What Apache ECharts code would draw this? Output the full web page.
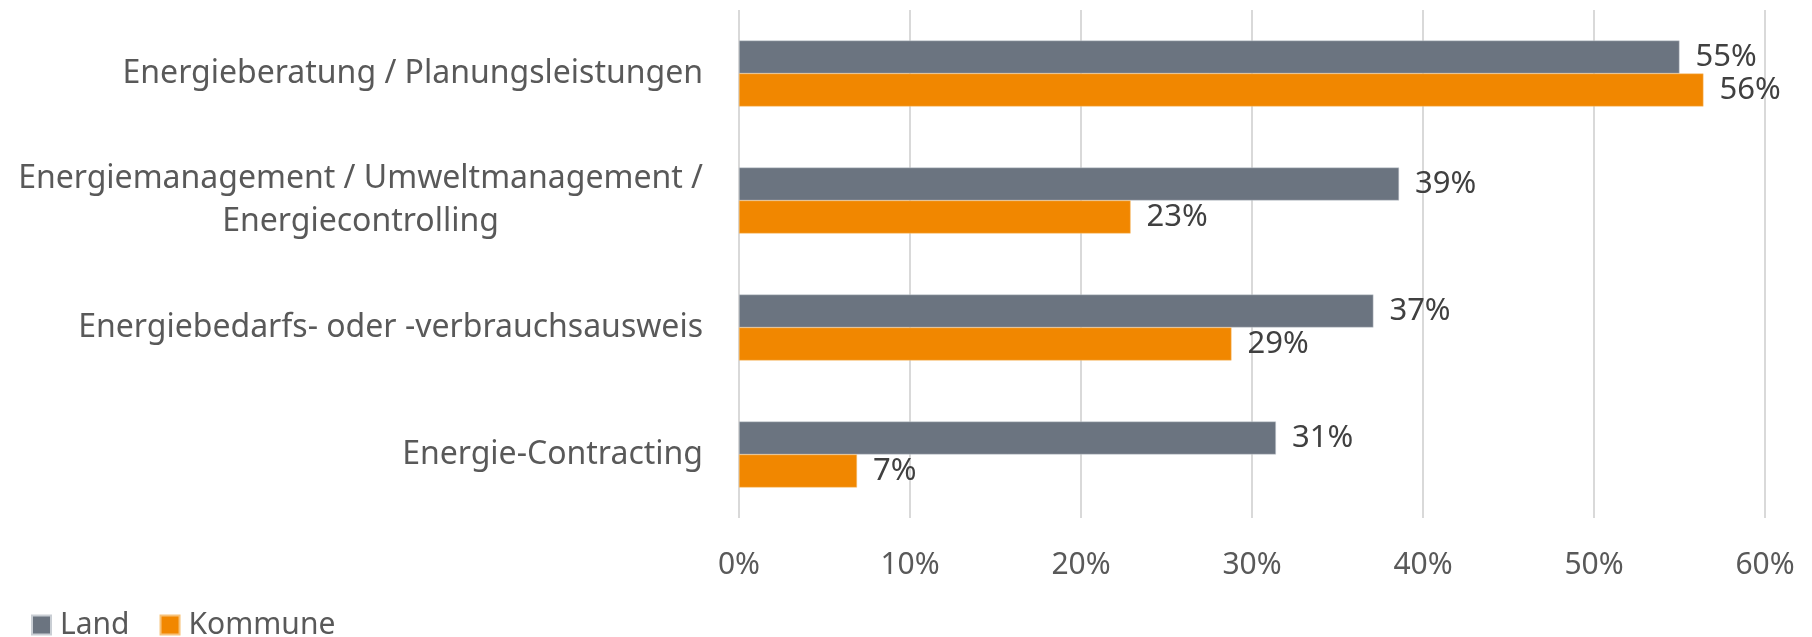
<!DOCTYPE html>
<html>
<head>
<meta charset="utf-8">
<script src="https://cdn.jsdelivr.net/npm/echarts@6/dist/echarts.min.js"></script>
<style>
    html, body {margin: 0; padding: 0; background: #fff;}
    #chart {width: 1812px; height: 637px;}
</style>
</head>
<body>
<div id="chart"></div>
<script>
var categories = [
    'Energieberatung / Planungsleistungen',
    'Energiemanagement / Umweltmanagement /\nEnergiecontrolling',
    'Energiebedarfs- oder -verbrauchsausweis',
    'Energie-Contracting'
];
var landValues = [55.0, 38.6, 37.1, 31.4];
var kommuneValues = [56.4, 22.9, 28.8, 6.9];
var tickLabels = ['0%', '10%', '20%', '30%', '40%', '50%', '60%'];

var FONT = 'Noto Sans';
var chart = echarts.init(document.getElementById('chart'));

function barLabel() {
    return {
        show: true,
        position: 'right',
        distance: 16,
        fontFamily: FONT,
        fontSize: 31,
        color: '#404040',
        formatter: function (p) {
            return Math.round(p.value) + '%';
        }
    };
}

option = {
    animation: false,
    grid: {left: 739, right: 47, top: 10, bottom: 119},
    legend: {
        left: 31,
        top: 610,
        padding: 0,
        itemWidth: 19,
        itemHeight: 19,
        itemGap: 30,
        icon: 'rect',
        textStyle: {fontFamily: FONT, fontSize: 30, color: '#595959', padding: [0, 0, 0, 4]},
        data: ['Land', 'Kommune']
    },
    xAxis: {
        type: 'value',
        min: 0,
        max: 60,
        interval: 10,
        axisLine: {show: false},
        axisTick: {show: false},
        splitLine: {lineStyle: {color: '#d9d9d9', width: 2}},
        axisLabel: {
            margin: 32,
            fontFamily: FONT,
            fontSize: 30,
            color: '#595959',
            formatter: function (v) {
                return tickLabels[v / 10];
            }
        }
    },
    yAxis: {
        type: 'category',
        inverse: true,
        data: categories,
        axisLine: {show: false},
        axisTick: {show: false},
        axisLabel: {
            margin: 36,
            formatter: function (v) {
                return v.split('\n').map(function (s) { return '{c|' + s + '}'; }).join('\n');
            },
            rich: {
                c: {align: 'center', fontFamily: FONT, fontSize: 32, color: '#595959', lineHeight: 43}
            }
        }
    },
    series: [
        {
            name: 'Land',
            type: 'bar',
            data: landValues,
            barWidth: 33,
            barGap: '0%',
            itemStyle: {color: '#6b7480', borderColor: '#c9ced4', borderWidth: 0.5},
            label: barLabel()
        },
        {
            name: 'Kommune',
            type: 'bar',
            data: kommuneValues,
            barWidth: 33,
            barGap: '0%',
            itemStyle: {color: '#f18700', borderColor: '#f7c27a', borderWidth: 0.5},
            label: barLabel()
        }
    ]
};
chart.setOption(option);
</script>
</body>
</html>
